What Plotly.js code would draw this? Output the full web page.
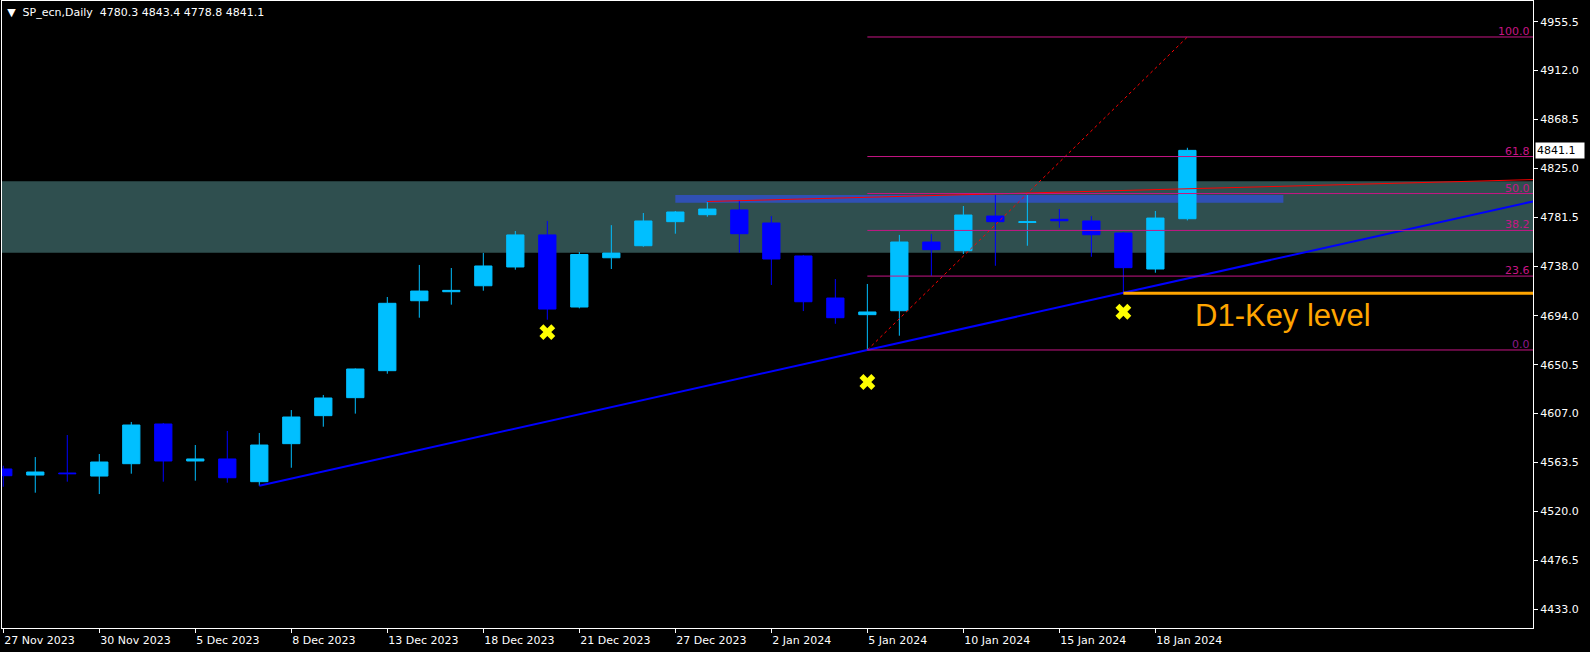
<!DOCTYPE html>
<html>
<head>
<meta charset="utf-8">
<script src="https://cdn.plot.ly/plotly-3.0.1.min.js"></script>
<style>html,body{margin:0;padding:0;background:#000;}#chart{width:1590px;height:652px;}</style>
</head>
<body>
<div id="chart"></div>
<script>
// ---- data ----
const dates = ["27 Nov 2023","28 Nov 2023","29 Nov 2023","30 Nov 2023","1 Dec 2023","4 Dec 2023","5 Dec 2023","6 Dec 2023","7 Dec 2023","8 Dec 2023","11 Dec 2023","12 Dec 2023","13 Dec 2023","14 Dec 2023","15 Dec 2023","18 Dec 2023","19 Dec 2023","20 Dec 2023","21 Dec 2023","22 Dec 2023","26 Dec 2023","27 Dec 2023","28 Dec 2023","29 Dec 2023","2 Jan 2024","3 Jan 2024","4 Jan 2024","5 Jan 2024","8 Jan 2024","9 Jan 2024","10 Jan 2024","11 Jan 2024","12 Jan 2024","15 Jan 2024","16 Jan 2024","17 Jan 2024","18 Jan 2024","19 Jan 2024"];
const openP  = [4557.8,4552.4,4554.2,4551.5,4562.5,4597.8,4564.9,4566.7,4546.5,4580.3,4605.2,4621.2,4645.2,4707.4,4715.4,4720.7,4737.4,4765.9,4701.8,4745.6,4756.3,4777.7,4783.9,4788.1,4776.5,4747.2,4709.8,4695.0,4698.5,4759.6,4751.9,4782.7,4777.0,4779.8,4778.3,4767.6,4735.6,4780.3];
const highP  = [4560.7,4568.4,4588.0,4571.1,4599.6,4598.7,4579.1,4591.6,4589.8,4610.2,4623.6,4647.2,4710.7,4739.2,4736.5,4749.9,4769.4,4778.3,4750.7,4774.6,4785.4,4787.2,4795.2,4797.0,4782.7,4748.0,4726.7,4722.3,4765.9,4766.7,4791.6,4801.4,4801.4,4788.9,4782.7,4768.5,4787.2,4843.4];
const lowP   = [4542.0,4536.7,4546.5,4535.5,4553.6,4546.5,4547.4,4545.6,4542.9,4558.9,4595.4,4607.0,4642.5,4692.3,4703.9,4716.3,4735.0,4690.5,4700.6,4735.6,4755.4,4767.0,4782.1,4750.1,4721.4,4698.2,4686.9,4663.6,4676.3,4729.6,4749.0,4738.5,4756.3,4772.3,4746.5,4714.0,4732.3,4778.8];
const closeP = [4551.8,4555.1,4553.6,4564.0,4596.9,4564.9,4566.7,4550.0,4579.1,4604.0,4620.9,4646.7,4705.1,4716.0,4716.6,4738.3,4765.9,4700.0,4748.5,4749.8,4778.3,4786.3,4788.9,4767.0,4744.5,4706.5,4692.3,4697.4,4759.6,4752.8,4783.6,4777.7,4777.6,4778.5,4766.1,4736.8,4780.9,4841.1];

const xTickBars   = [0,3,6,9,12,15,18,21,24,27,30,33,36];
const xTickLabels = ["27 Nov 2023","30 Nov 2023","5 Dec 2023","8 Dec 2023","13 Dec 2023","18 Dec 2023","21 Dec 2023","27 Dec 2023","2 Jan 2024","5 Jan 2024","10 Jan 2024","15 Jan 2024","18 Jan 2024"];
const yTickVals   = [4433.0,4476.5,4520.0,4563.5,4607.0,4650.5,4694.0,4738.0,4781.5,4825.0,4868.5,4912.0,4955.5];
const yTickLabels = ["4433.0","4476.5","4520.0","4563.5","4607.0","4650.5","4694.0","4738.0","4781.5","4825.0","4868.5","4912.0","4955.5"];

// drawn objects (bar index / price)
const zonePrices      = [4750.1, 4813.7];
const blueRectBars    = [21, 40];
const blueRectPrices  = [4794.6, 4801.3];
const trendBars       = [8, 27];
const trendPrices     = [4542.9, 4663.6];
const redLineBars     = [22, 31];
const redLinePrices   = [4795.6, 4802.4];
const fibBaseBars     = [27, 37];
const fibBasePrices   = [4663.6, 4941.9];
const fibLabels       = ["0.0","23.6","38.2","50.0","61.8","100.0"];
const fibPrices       = [4663.6, 4729.3, 4769.9, 4802.7, 4835.6, 4941.9];
const keyLevelBar     = 35;
const keyLevelPrice   = 4714.0;
const keyLevelText    = "D1-Key level";
const crossBars       = [17, 27, 35];
const crossPrices     = [4679.5, 4635.1, 4697.6];
const symbolTitle     = "SP_ecn,Daily";
const lastPrice       = 4841.1;

// ---- layout constants ----
const X_RANGE = [-0.04, 47.8];
const Y_RANGE = [4416.4, 4973.9];
const FONT = "DejaVu Sans, Verdana, sans-serif";
const xIdx = dates.map((d, i) => i);

function extendTo(bars, prices, xEnd) {
  const slope = (prices[1] - prices[0]) / (bars[1] - bars[0]);
  return [bars[0], xEnd, prices[0], prices[0] + slope * (xEnd - bars[0])];
}

const traces = [];
traces.push({
  type: 'candlestick', x: xIdx, open: openP, high: highP, low: lowP, close: closeP,
  increasing: {line: {color: '#00BFFF', width: 1}, fillcolor: '#00BFFF'},
  decreasing: {line: {color: '#0000FF', width: 1}, fillcolor: '#0000FF'},
  whiskerwidth: 0, hoverinfo: 'skip', showlegend: false
});
// blue trend line
const tl = extendTo(trendBars, trendPrices, X_RANGE[1]);
traces.push({type: 'scatter', mode: 'lines', x: [tl[0], tl[1]], y: [tl[2], tl[3]],
  line: {color: '#0000FF', width: 2}, hoverinfo: 'skip', showlegend: false});
// red trend line
const rl = extendTo(redLineBars, redLinePrices, X_RANGE[1]);
traces.push({type: 'scatter', mode: 'lines', x: [rl[0], rl[1]], y: [rl[2], rl[3]],
  line: {color: '#FF0000', width: 1}, hoverinfo: 'skip', showlegend: false});
// fib base (dotted)
traces.push({type: 'scatter', mode: 'lines', x: fibBaseBars, y: fibBasePrices,
  line: {color: '#FF0000', width: 1, dash: 'dot'}, hoverinfo: 'skip', showlegend: false});
// fib levels
fibPrices.forEach((p) => {
  traces.push({type: 'scatter', mode: 'lines', x: [fibBaseBars[0], X_RANGE[1]], y: [p, p],
    line: {color: '#C71585', width: 1}, hoverinfo: 'skip', showlegend: false});
});
// key level
traces.push({type: 'scatter', mode: 'lines', x: [keyLevelBar, X_RANGE[1]], y: [keyLevelPrice, keyLevelPrice],
  line: {color: '#FFA500', width: 3}, hoverinfo: 'skip', showlegend: false});
// yellow crosses
traces.push({type: 'scatter', mode: 'markers', x: crossBars, y: crossPrices,
  marker: {symbol: 'x', size: 14, color: '#FFFF00', line: {width: 0}}, hoverinfo: 'skip', showlegend: false});

const shapes = [
  {type: 'rect', layer: 'below', xref: 'paper', yref: 'y', x0: 0, x1: 1, y0: zonePrices[0], y1: zonePrices[1],
   fillcolor: '#2F4F4F', line: {width: 0}},
  {type: 'rect', layer: 'below', xref: 'x', yref: 'y', x0: blueRectBars[0], x1: blueRectBars[1],
   y0: blueRectPrices[0], y1: blueRectPrices[1], fillcolor: '#3050B4', line: {width: 0}}
];

const annotations = [];
fibPrices.forEach((p, i) => {
  annotations.push({xref: 'paper', yref: 'y', x: 1, y: p, xanchor: 'right', yanchor: 'bottom',
    xshift: -1, yshift: -3, text: fibLabels[i], showarrow: false,
    font: {family: FONT, size: 11, color: i === 0 ? '#8B1A8B' : '#C71585'}});
});
annotations.push({xref: 'x', yref: 'y', x: blueRectBars[1], y: keyLevelPrice, xanchor: 'center', yanchor: 'top',
  yshift: -3, text: keyLevelText, showarrow: false,
  font: {family: 'Liberation Sans, Arial, sans-serif', size: 31, color: '#FFA500'}});
annotations.push({xref: 'paper', yref: 'y', x: 1, y: lastPrice, xanchor: 'left', yanchor: 'middle',
  xshift: 2, text: lastPrice.toFixed(1), showarrow: false, bgcolor: '#FFFFFF', borderpad: 1,
  width: 46, align: 'left',
  font: {family: FONT, size: 11, color: '#000000'}});

const layout = {
  width: 1590, height: 652,
  paper_bgcolor: '#000000', plot_bgcolor: '#000000',
  margin: {l: 2, r: 57, t: 1, b: 24, pad: 0},
  showlegend: false,
  boxgap: 0.23,
  title: {text: '\u25BC\u00A0\u00A0' + symbolTitle + '\u00A0\u00A0' + [openP[37], highP[37], lowP[37], closeP[37]].map(v => v.toFixed(1)).join(' '),
          x: 0.0045, xanchor: 'left', y: 0.988, yanchor: 'top', xref: 'container', yref: 'container',
          font: {family: FONT, size: 11, color: '#FFFFFF'}},
  xaxis: {
    range: X_RANGE, type: 'linear', rangeslider: {visible: false},
    showgrid: false, zeroline: false, showline: true, linecolor: '#FFFFFF', linewidth: 1, mirror: true,
    ticks: 'outside', ticklen: 4, tickcolor: '#FFFFFF', tickwidth: 1,
    tickmode: 'array', tickvals: xTickBars, ticktext: xTickLabels,
    ticklabelposition: 'outside right', ticklabelstandoff: 2,
    tickfont: {family: FONT, size: 11, color: '#FFFFFF'}, fixedrange: true
  },
  yaxis: {
    range: Y_RANGE, side: 'right',
    showgrid: false, zeroline: false, showline: true, linecolor: '#FFFFFF', linewidth: 1, mirror: true,
    ticks: 'outside', ticklen: 4, tickcolor: '#FFFFFF', tickwidth: 1,
    tickmode: 'array', tickvals: yTickVals, ticktext: yTickLabels,
    tickfont: {family: FONT, size: 11, color: '#FFFFFF'}, fixedrange: true
  },
  shapes: shapes,
  annotations: annotations
};

Plotly.newPlot('chart', traces, layout, {staticPlot: true, displayModeBar: false});
</script>
</body>
</html>
